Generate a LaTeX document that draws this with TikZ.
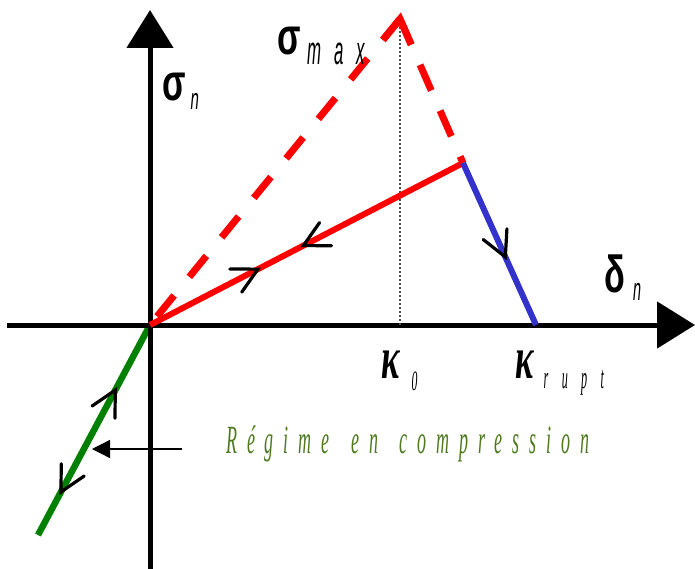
\documentclass[tikz,border=0pt]{standalone}
\usepackage{fontspec}
\usepackage{graphicx}
\usetikzlibrary{arrows.meta,decorations.markings,calc}
\newfontfamily\sansfam{Liberation Sans}
\newfontfamily\seriffam{Liberation Serif}
\definecolor{curvered}{RGB}{255,0,0}
\definecolor{curveblue}{RGB}{51,51,204}
\definecolor{curvegreen}{RGB}{0,128,0}
\definecolor{labelgreen}{RGB}{77,122,30}
\newcommand{\squeeze}[2]{\scalebox{#1}[1]{#2}}
\newcommand{\grk}[1]{\squeeze{0.66}{\sansfam\bfseries\fontsize{52}{52}\selectfont #1}}
\newcommand{\kap}{\squeeze{0.58}{\seriffam\bfseries\itshape\fontsize{60}{60}\selectfont κ}}
\newcommand{\sanssub}[4]{\squeeze{#1}{\sansfam\itshape\addfontfeatures{LetterSpace=#3}\fontsize{#2}{#2}\selectfont #4}}
\newcommand{\serifsub}[4]{\squeeze{#1}{\seriffam\itshape\addfontfeatures{LetterSpace=#3}\fontsize{#2}{#2}\selectfont #4}}

\begin{document}
\begin{tikzpicture}[x=1pt,y=-1pt,
    axis/.style={line width=5pt,-{Triangle[length=38pt,width=46pt]}},
    chevron/.style={black,line width=3.2pt,line cap=round,line join=miter},
    fwdchev/.style={postaction={decorate,decoration={markings,mark=at position #1 with
        {\draw[chevron] (-25pt,-13pt) -- (0pt,0pt) -- (-25pt,13pt);}}}},
    backchev/.style={postaction={decorate,decoration={markings,mark=at position #1 with
        {\draw[chevron] (25pt,-13pt) -- (0pt,0pt) -- (25pt,13pt);}}}},
    lbl/.style={inner sep=0pt,anchor=base west}]
    \useasboundingbox (0,0) rectangle (695,569);

    % Key points
    \coordinate (O) at (150,325);
    \coordinate (peak) at (400,19);
    \coordinate (knee) at (463,163);
    \coordinate (rupt) at (536,325);
    \coordinate (comp) at (38,535);
    \coordinate (k0) at (400,325);
    \coordinate (xstart) at (7,325);
    \coordinate (xend) at (695,325);
    \coordinate (ystart) at (150,569);
    \coordinate (yend) at (150,10);

    % Compression branch
    \draw[curvegreen, line width=6.5pt, backchev=0.31, fwdchev=0.795] (O) -- (comp);

    % Axes
    \draw[axis] (xstart) -- (xend);
    \draw[axis] (ystart) -- (yend);

    % Projection of the peak
    \draw[black!70, line width=1.5pt, dash pattern=on 2pt off 2pt] (peak) -- (k0);

    % Envelope
    \draw[curvered, line width=7pt, dash pattern=on 27pt off 24pt] (peak) -- (O);
    \draw[curvered, line width=7pt, dash pattern=on 28pt off 22pt] (peak) -- (knee);
    \draw[curvered, line width=7pt, line join=miter] ($(peak)!27pt!(O)$) -- (peak) -- ($(peak)!28pt!(knee)$);

    % Unloading / reloading and softening
    \draw[curvered, line width=6pt, fwdchev=0.345, backchev=0.49] (O) -- (knee);
    \draw[curveblue, line width=6pt, fwdchev=0.58] (knee) -- (rupt);

    % Labels
    \node[lbl] (sigman) at (162,101) {\grk{σ}\hspace{5pt}\raisebox{-9pt}{\sanssub{0.5}{30}{0}{n}}};
    \node[lbl] (sigmamax) at (277,55) {\grk{σ}\hspace{7pt}\raisebox{-10pt}{\sanssub{0.42}{40}{75}{max}}};
    \node[lbl] (deltan) at (604,292) {\grk{δ}\hspace{8pt}\raisebox{-8pt}{\sanssub{0.45}{32}{0}{n}}};
    \node[lbl] (kappa0) at (381,378) {\kap\hspace{12pt}\raisebox{-12pt}{\serifsub{0.42}{28}{0}{0}}};
    \node[lbl] (kapparupt) at (515,378) {\kap\hspace{10pt}\raisebox{-10pt}{\serifsub{0.38}{32}{110}{rupt}}};

    % Compression regime
    \node[lbl, labelgreen] (regime) at (226,453) {\serifsub{0.45}{40}{55}{Régime\hspace{16pt} en\hspace{16pt} compression}};
    \coordinate (regtail) at (182,449);
    \coordinate (regtip) at (92,449);
    \draw[line width=1.3pt, -{Triangle[length=18pt,width=18pt]}] (regtail) -- (regtip);
\end{tikzpicture}
\end{document}
